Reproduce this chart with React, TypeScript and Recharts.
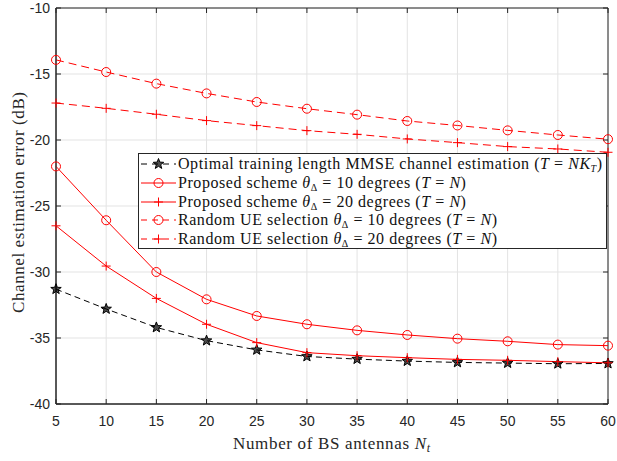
import React from "react";
import { LineChart, Line, XAxis, YAxis, CartesianGrid, ReferenceArea } from "recharts";

const antennas = [5, 10, 15, 20, 25, 30, 35, 40, 45, 50, 55, 60];
const optimal = [-31.3, -32.8, -34.2, -35.2, -35.9, -36.4, -36.6, -36.75, -36.85, -36.9, -36.95, -36.93];
const proposed10 = [-22.0, -26.08, -30.0, -32.07, -33.33, -33.96, -34.42, -34.77, -35.05, -35.25, -35.5, -35.58];
const proposed20 = [-26.5, -29.55, -32.0, -33.96, -35.35, -36.11, -36.34, -36.49, -36.62, -36.69, -36.79, -36.88];
const random10 = [-13.93, -14.85, -15.73, -16.47, -17.12, -17.63, -18.08, -18.56, -18.9, -19.27, -19.62, -19.94];
const random20 = [-17.2, -17.6, -18.05, -18.53, -18.91, -19.29, -19.57, -19.92, -20.2, -20.5, -20.68, -20.93];

const xTicks = [5, 10, 15, 20, 25, 30, 35, 40, 45, 50, 55, 60];
const yTicks = [-40, -35, -30, -25, -20, -15, -10];

const data = antennas.map((n, i) => ({
  n,
  optimal: optimal[i],
  proposed10: proposed10[i],
  proposed20: proposed20[i],
  random10: random10[i],
  random20: random20[i],
}));

const RED = "#ff0000";
const AXIS = "#262626";
const PLOT_TOP = 8;
const PLOT_BOTTOM = 404;
const PLOT_LEFT = 56;
const PLOT_RIGHT = 608;
const serif = "'Liberation Serif', 'Times New Roman', serif";
const sans = "'Liberation Sans', Arial, sans-serif";

const Circle = ({ cx, cy, color }: any) => (
  <circle cx={cx} cy={cy} r={4.5} fill="none" stroke={color} strokeWidth={1} />
);
const Plus = ({ cx, cy, color }: any) => (
  <g stroke={color} strokeWidth={1}>
    <line x1={cx - 4.5} y1={cy} x2={cx + 4.5} y2={cy} />
    <line x1={cx} y1={cy - 4.5} x2={cx} y2={cy + 4.5} />
  </g>
);
const Star = ({ cx, cy, color }: any) => {
  const pts: string[] = [];
  for (let k = 0; k < 10; k++) {
    const r = k % 2 === 0 ? 5.5 : 2.3;
    const a = -Math.PI / 2 + (k * Math.PI) / 5;
    pts.push(`${cx + r * Math.cos(a)},${cy + r * Math.sin(a)}`);
  }
  return <polygon points={pts.join(" ")} fill={color} fillOpacity={0.7} stroke={color} strokeWidth={1} />;
};

const dot = (Shape: any, color: string) => (props: any) => {
  if (props.cx == null || props.cy == null) return <g key={props.key} />;
  return <Shape key={props.key} cx={props.cx} cy={props.cy} color={color} />;
};

const series = [
  { key: "optimal", color: "#000000", dash: "6 4", shape: Star },
  { key: "proposed10", color: RED, dash: undefined, shape: Circle },
  { key: "proposed20", color: RED, dash: undefined, shape: Plus },
  { key: "random10", color: RED, dash: "8 5", shape: Circle },
  { key: "random20", color: RED, dash: "8 5", shape: Plus },
];

const sub = { fontSize: 10, verticalAlign: "-3px", lineHeight: 0 } as const;
const theta = (
  <span>
    <i>θ</i>
    <span style={sub}>Δ</span>
  </span>
);
const tn = (
  <span>
    (<i>T</i> = <i>N</i>)
  </span>
);
const legendLabels = [
  <span>
    Optimal training length MMSE channel estimation (<i>T</i> = <i>NK</i>
    <span style={sub}>
      <i>T</i>
    </span>
    )
  </span>,
  <span>Proposed scheme {theta} = 10 degrees {tn}</span>,
  <span>Proposed scheme {theta} = 20 degrees {tn}</span>,
  <span>Random UE selection {theta} = 10 degrees {tn}</span>,
  <span>Random UE selection {theta} = 20 degrees {tn}</span>,
];

const XTick = ({ x, y, payload }: any) => (
  <g>
    <line x1={x} y1={PLOT_BOTTOM} x2={x} y2={PLOT_BOTTOM - 5} stroke={AXIS} />
    <line x1={x} y1={PLOT_TOP} x2={x} y2={PLOT_TOP + 5} stroke={AXIS} />
    <text x={x} y={y + 21.5} textAnchor="middle" style={{ fontFamily: sans, fontSize: 14 }} fill={AXIS}>
      {payload.value}
    </text>
  </g>
);

const YTick = ({ x, y, payload }: any) => (
  <g>
    <line x1={PLOT_LEFT} y1={y} x2={PLOT_LEFT + 5} y2={y} stroke={AXIS} />
    <line x1={PLOT_RIGHT} y1={y} x2={PLOT_RIGHT - 5} y2={y} stroke={AXIS} />
    <text x={x - 6} y={y + 5} textAnchor="end" style={{ fontFamily: sans, fontSize: 14 }} fill={AXIS}>
      {payload.value}
    </text>
  </g>
);

export default function App() {
  return (
    <div style={{ position: "absolute", left: 0, top: 0, width: 617, height: 461, background: "#fff" }}>
      <LineChart width={617} height={461} data={data} margin={{ top: 8, right: 9, bottom: 0, left: 0 }}>
        <CartesianGrid stroke="#e3e3e3" strokeWidth={1} />
        <XAxis
          dataKey="n"
          type="number"
          domain={[5, 60]}
          ticks={xTicks}
          height={57}
          tickSize={0}
          tickMargin={0}
          tickLine={false}
          axisLine={{ stroke: AXIS }}
          tick={<XTick />}
          interval={0}
        />
        <YAxis
          type="number"
          domain={[-40, -10]}
          ticks={yTicks}
          width={56}
          tickSize={0}
          tickMargin={0}
          tickLine={false}
          axisLine={{ stroke: AXIS }}
          tick={<YTick />}
          interval={0}
        />
        <ReferenceArea x1={5} x2={60} y1={-40} y2={-10} fill="none" stroke={AXIS} strokeWidth={1} ifOverflow="visible" />
        {series.map((s) => (
          <Line
            key={s.key}
            dataKey={s.key}
            type="linear"
            stroke={s.color}
            strokeWidth={1}
            strokeDasharray={s.dash}
            dot={dot(s.shape, s.color)}
            activeDot={false}
            isAnimationActive={false}
          />
        ))}
      </LineChart>
      <svg
        width={617}
        height={461}
        style={{ position: "absolute", left: 0, top: 0, pointerEvents: "none", fontFamily: serif }}
      >
        <text x={233} y={449} textLength={197} lengthAdjust="spacing" fontSize={17} fill={AXIS}>
          Number of BS antennas <tspan fontStyle="italic">N</tspan>
          <tspan fontStyle="italic" fontSize={12} dy={3}>t</tspan>
        </text>
        <text
          x={24}
          y={313}
          textLength={221}
          lengthAdjust="spacing"
          fontSize={17}
          fill={AXIS}
          transform="rotate(-90 24 313)"
        >
          Channel estimation error (dB)
        </text>
      </svg>
      <div
        style={{
          position: "absolute",
          left: 138,
          top: 153,
          width: 469,
          height: 96,
          border: `1px solid ${AXIS}`,
          background: "#fff",
          fontFamily: serif,
          fontSize: 16,
          color: "#111",
          boxSizing: "border-box",
          paddingTop: 1,
        }}
      >
        {series.map((s, i) => (
          <div key={s.key} style={{ display: "flex", alignItems: "center", height: 18.7, whiteSpace: "nowrap" }}>
            <svg width={38} height={18} style={{ flex: "none" }}>
              <line x1={2} y1={9} x2={37} y2={9} stroke={s.color} strokeWidth={1} strokeDasharray={s.dash ? "6 5" : undefined} />
              <s.shape cx={19.5} cy={9} color={s.color} />
            </svg>
            <span style={{ marginLeft: 1, letterSpacing: 0.55, lineHeight: "18px" }}>{legendLabels[i]}</span>
          </div>
        ))}
      </div>
    </div>
  );
}
